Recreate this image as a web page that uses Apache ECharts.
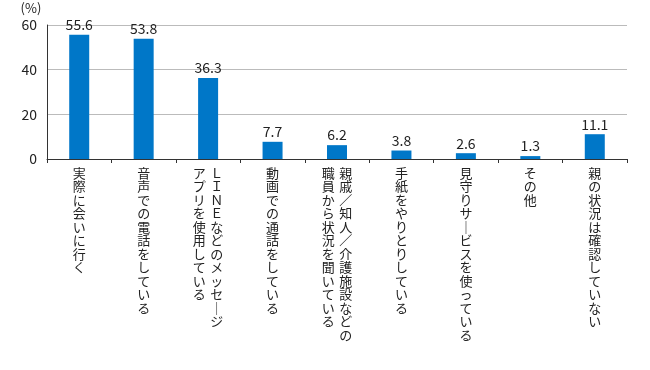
<!DOCTYPE html>
<html><head><meta charset="utf-8">
<script src="https://cdn.jsdelivr.net/npm/echarts@6/dist/echarts.min.js"></script>
<style>html,body{margin:0;padding:0;background:#fff}#c{width:650px;height:370px}</style>
</head><body><div id="c"></div>
<script>
const categories = [
  '実際に会いに行く',
  '音声での電話をしている',
  'ＬＩＮＥなどのメッセージ\nアプリを使用している',
  '動画での通話をしている',
  '親戚／知人／介護施設などの\n職員から状況を聞いている',
  '手紙をやりとりしている',
  '見守りサービスを使っている',
  'その他',
  '親の状況は確認していない'
];
const values = [55.6, 53.8, 36.3, 7.7, 6.2, 3.8, 2.6, 1.3, 11.1];
const yTicks = [0, 20, 40, 60];
const FONT = '"Noto Sans CJK JP", "Noto Sans", sans-serif';

function vertical(label) {
  const cols = label.split('\n').map(c => [...c]).reverse();
  const n = Math.max(...cols.map(c => c.length));
  const lines = [];
  for (let i = 0; i < n; i++) {
    lines.push(cols.map(c => {
      let ch = c[i] || '　';
      if (ch === 'ー') ch = '｜';
      return '{c|' + ch + '}';
    }).join(''));
  }
  return lines.join('\n');
}

const chart = echarts.init(document.getElementById('c'), null, {renderer: 'canvas'});
chart.setOption({
  animation: false,
  grid: {left: 47, right: 23, top: 25, bottom: 211},
  xAxis: {
    type: 'category',
    data: categories,
    axisLine: {lineStyle: {color: '#333', width: 1}},
    axisTick: {show: true, length: 4, lineStyle: {color: '#333'}},
    axisLabel: {
      interval: 0,
      margin: 7,
      formatter: vertical,
      rich: {c: {width: 17.5, align: 'center', fontSize: 13, lineHeight: 13.5, fontFamily: FONT, color: '#222'}}
    }
  },
  yAxis: {
    type: 'value',
    min: yTicks[0], max: yTicks[yTicks.length - 1], interval: 20,
    name: '(%)',
    nameGap: 10,
    nameTextStyle: {fontSize: 13, fontFamily: FONT, color: '#222', align: 'center', padding: [0, 32, 0, 0]},
    axisLine: {show: true, lineStyle: {color: '#333'}},
    axisTick: {show: false},
    axisLabel: {fontSize: 14, fontFamily: FONT, color: '#222', margin: 10},
    splitLine: {lineStyle: {color: '#bbb', width: 1}}
  },
  series: [{
    type: 'bar',
    data: values,
    barWidth: 20,
    itemStyle: {color: '#0077c8'},
    label: {show: true, position: 'top', distance: 3, fontSize: 14, fontFamily: FONT, color: '#222',
      formatter: p => p.value.toFixed(1)}
  }]
});
</script></body></html>
